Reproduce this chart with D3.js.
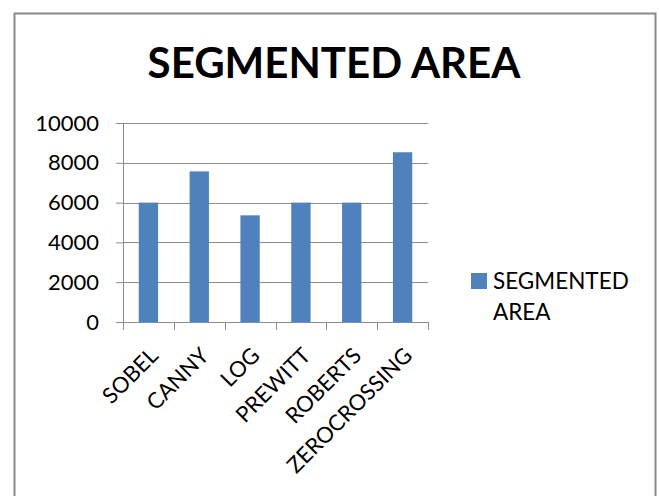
<!DOCTYPE html>
<html>
<head>
<meta charset="utf-8">
<script src="https://cdn.jsdelivr.net/npm/d3@7"></script>
<style>
  body { margin: 0; background: #fff; }
  svg text { font-family: Lato, "Open Sans", sans-serif; fill: #000; }
</style>
</head>
<body>
<div class="chart-area"></div>
<script>
const categories = ['SOBEL', 'CANNY', 'LOG', 'PREWITT', 'ROBERTS', 'ZEROCROSSING'];
const segmentedArea = [6000, 7570, 5360, 6000, 6000, 8530];
const yTicks = [0, 2000, 4000, 6000, 8000, 10000];
const seriesName = 'SEGMENTED AREA';
const chartTitle = 'SEGMENTED AREA';

const chart = {
  width: 659,
  height: 496,
  barColor: '#4F81BD',
  gridColor: '#8c8c8c',
  left: 123,
  right: 428,
  top: 123,
  bottom: 322,
};

const svg = d3.select('.chart-area')
  .append('svg')
  .attr('width', chart.width)
  .attr('height', chart.height);

// outer frame, bottom edge falls off the picture
svg.append('rect')
  .attr('x', 14.5)
  .attr('y', 13.5)
  .attr('width', 641)
  .attr('height', 500)
  .attr('fill', 'none')
  .attr('stroke', '#8a8a8a')
  .attr('stroke-width', 2);

svg.append('text')
  .attr('x', 334)
  .attr('y', 78)
  .attr('text-anchor', 'middle')
  .attr('font-size', '42px')
  .attr('font-weight', 'bold')
  .text(chartTitle);

const x = d3.scaleBand().domain(categories).range([chart.left, chart.right]).paddingInner(0.62).paddingOuter(0.31);
const y = d3.scaleLinear().domain([0, 10000]).range([chart.bottom, chart.top]);

// gridlines + y ticks
const yAxis = svg.append('g')
  .attr('transform', `translate(${chart.left},0)`)
  .call(d3.axisLeft(y).tickValues(yTicks).tickSize(7).tickPadding(17).tickFormat(d3.format('d')));
yAxis.select('.domain').attr('stroke', chart.gridColor);
yAxis.selectAll('.tick line').attr('stroke', chart.gridColor);
yAxis.selectAll('.tick text').attr('font-size', '22px').attr('fill', '#000');

svg.append('g').selectAll('line')
  .data(yTicks.filter(d => d > 0))
  .enter()
  .append('line')
  .attr('x1', chart.left)
  .attr('x2', chart.right)
  .attr('y1', d => Math.round(y(d)) + 0.5)
  .attr('y2', d => Math.round(y(d)) + 0.5)
  .attr('stroke', chart.gridColor);

svg.append('g').selectAll('rect')
  .data(categories)
  .enter()
  .append('rect')
  .attr('x', d => x(d))
  .attr('y', (d, i) => y(segmentedArea[i]))
  .attr('width', x.bandwidth())
  .attr('height', (d, i) => chart.bottom - y(segmentedArea[i]))
  .attr('fill', chart.barColor);

// x axis with ticks between categories
const step = x.step();
const boundaries = d3.range(categories.length + 1).map(i => chart.left + i * step);
svg.append('line')
  .attr('x1', chart.left).attr('x2', chart.right)
  .attr('y1', chart.bottom + 0.5).attr('y2', chart.bottom + 0.5)
  .attr('stroke', chart.gridColor);
svg.append('g').selectAll('line')
  .data(boundaries)
  .enter()
  .append('line')
  .attr('x1', d => Math.round(d) + 0.5)
  .attr('x2', d => Math.round(d) + 0.5)
  .attr('y1', chart.bottom)
  .attr('y2', chart.bottom + 8)
  .attr('stroke', chart.gridColor);

svg.append('g').selectAll('text')
  .data(categories)
  .enter()
  .append('text')
  .attr('transform', d => `translate(${x(d) + x.bandwidth() / 2 + 11},${chart.bottom + 35}) rotate(-45)`)
  .attr('text-anchor', 'end')
  .attr('font-size', '22px')
  .text(d => d);

// legend
const legend = svg.append('g').attr('transform', 'translate(471,273)');
legend.append('rect')
  .attr('width', 16)
  .attr('height', 16)
  .attr('fill', chart.barColor);
legend.append('text')
  .attr('x', 22)
  .attr('y', 16)
  .attr('font-size', '22.5px')
  .text(seriesName.split(' ')[0]);
legend.append('text')
  .attr('x', 22)
  .attr('y', 47)
  .attr('font-size', '22.5px')
  .text(seriesName.split(' ')[1]);
</script>
</body>
</html>
